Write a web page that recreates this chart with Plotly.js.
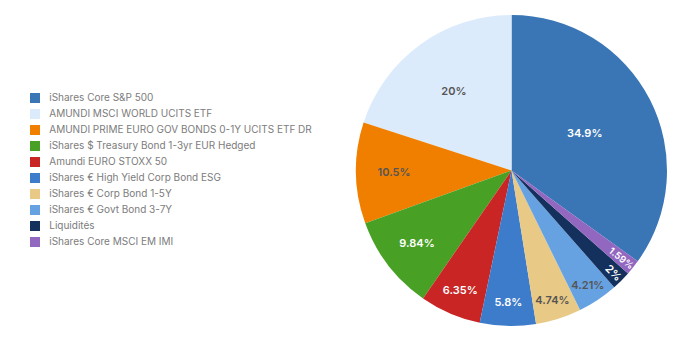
<!DOCTYPE html>
<html>
<head>
<meta charset="utf-8">
<script src="https://cdn.plot.ly/plotly-3.0.1.min.js"></script>
<style>html,body{margin:0;padding:0;background:#fff;}#chart{width:690px;height:351px;}</style>
</head>
<body>
<div id="chart"></div>
<script>
const labels = [
  "iShares Core S&P 500",
  "AMUNDI MSCI WORLD UCITS ETF",
  "AMUNDI PRIME EURO GOV BONDS 0-1Y UCITS ETF DR",
  "iShares $ Treasury Bond 1-3yr EUR Hedged",
  "Amundi EURO STOXX 50",
  "iShares € High Yield Corp Bond ESG",
  "iShares € Corp Bond 1-5Y",
  "iShares € Govt Bond 3-7Y",
  "Liquidités",
  "iShares Core MSCI EM IMI"
];
const values = [34.9, 20, 10.5, 9.84, 6.35, 5.8, 4.74, 4.21, 2, 1.59];
const colors = ["#3a76b5", "#dcebfb", "#f07f00", "#48a025", "#c92525", "#3d7bcb", "#e9c986", "#66a1e1", "#14305c", "#9267c0"];
const textColors = ["#ffffff", "#555555", "#555555", "#ffffff", "#ffffff", "#ffffff", "#555555", "#555555", "#ffffff", "#ffffff"];

// legend rows (index of each label in the list)
const legendRows = labels.map((_, i) => i);

const pie = {
  type: "pie",
  labels: labels,
  values: values,
  sort: false,
  direction: "counterclockwise",
  rotation: 0,
  marker: {colors: colors, line: {width: 0}},
  texttemplate: "%{value}%",
  textposition: "inside",
  insidetextorientation: "auto",
  insidetextfont: {family: "Inter, sans-serif", size: 11, color: textColors, weight: 600},
  domain: {x: [356/690, 667/690], y: [0, 1]},
  showlegend: false,
  hoverinfo: "label+percent"
};

const legendMarks = {
  type: "scatter",
  mode: "markers",
  x: legendRows.map(() => 0),
  y: legendRows,
  marker: {symbol: "square", size: 10, color: colors, line: {width: 0}},
  cliponaxis: false,
  showlegend: false,
  hoverinfo: "skip",
  xaxis: "x", yaxis: "y"
};

const legendText = {
  type: "scatter",
  mode: "text",
  x: legendRows.map(() => 0.046),
  y: legendRows,
  text: labels,
  textposition: "middle right",
  textfont: {family: "Inter, sans-serif", size: 10, color: "#7c7c7c"},
  cliponaxis: false,
  showlegend: false,
  hoverinfo: "skip",
  xaxis: "x", yaxis: "y"
};

const layout = {
  width: 690,
  height: 351,
  margin: {l: 0, r: 0, t: 15, b: 25},
  paper_bgcolor: "#ffffff",
  plot_bgcolor: "rgba(0,0,0,0)",
  showlegend: false,
  xaxis: {domain: [35/690, 0.5], range: [0, 1], visible: false, fixedrange: true},
  yaxis: {domain: [(326-242)/311, (326-98)/311], range: [9, 0], visible: false, fixedrange: true}
};

Plotly.newPlot("chart", [pie, legendMarks, legendText], layout, {displayModeBar: false, staticPlot: true});
</script>
</body>
</html>
